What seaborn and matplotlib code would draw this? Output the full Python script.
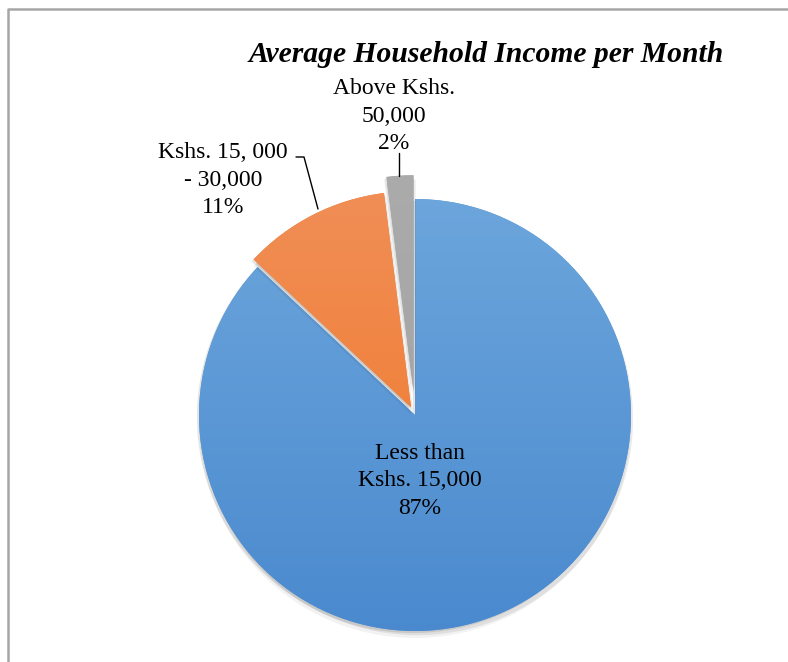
import numpy as np
import matplotlib
matplotlib.use("Agg")
import matplotlib.pyplot as plt
import seaborn as sns
from matplotlib import patheffects as pe
from matplotlib.colors import LinearSegmentedColormap
from matplotlib.lines import Line2D

# ---- data ----
categories = ["Less than\nKshs. 15,000", "Kshs. 15, 000\n- 30,000", "Above Kshs.\n50,000"]
shares = [87, 11, 2]
title = "Average Household Income per Month"

sns.set_theme(style="white")
plt.rcParams['font.family'] = ['Liberation Serif', 'DejaVu Serif']
plt.rcParams['text.color'] = 'black'

W, H = 788, 662
fig = plt.figure(figsize=(W / 100, H / 100), dpi=100)
ax = fig.add_axes([0, 0, 1, 1])

cx, cy, r = 415, H - 415, 216
explode_frac = [0.0, 0.04, 0.11]
base_cols = ["#5B9BD5", "#ED7D31", "#A5A5A5"]
grad_cols = [("#6FA8DD", "#4787CD"), ("#F1905A", "#EF7420"), ("#ABABAB", "#A0A0A0")]

wedges, _ = ax.pie(shares, center=(cx, cy), radius=r, startangle=90,
                   counterclock=False, colors=base_cols,
                   explode=[f * r for f in explode_frac], frame=True,
                   wedgeprops=dict(linewidth=0))

for i, w in enumerate(wedges):
    w.set_zorder(1 + i)
    w.set_path_effects([
        pe.SimplePatchShadow(offset=(0, -5), shadow_rgbFace="#000000", alpha=0.05),
        pe.SimplePatchShadow(offset=(1.5, -3), shadow_rgbFace="#000000", alpha=0.08),
        pe.SimplePatchShadow(offset=(-1.5, -1.5), shadow_rgbFace="#000000", alpha=0.10),
        pe.Normal()])
    cmap = LinearSegmentedColormap.from_list("g%d" % i, list(grad_cols[i]))
    img = np.linspace(0, 1, 256).reshape(-1, 1)
    im = ax.imshow(img, cmap=cmap, extent=[cx - r - 40, cx + r + 40, cy - r - 40, cy + r + 40],
                   origin="upper", aspect="auto", zorder=1.5 + i, interpolation="bilinear")
    im.set_clip_path(w)

ax.set_xlim(0, W)
ax.set_ylim(0, H)
ax.set_aspect("equal")
ax.axis("off")

fs = 17
ls = 1.4
lab = [c + "\n%d%%" % s for c, s in zip(categories, shares)]
ax.text(420, H - 481, lab[0], ha="center", va="center", fontsize=fs, linespacing=ls, zorder=10)
ax.text(223, H - 180, lab[1], ha="center", va="center", fontsize=fs, linespacing=ls, zorder=10)
ax.text(394, H - 116, lab[2], ha="center", va="center", fontsize=fs, linespacing=ls, zorder=10)

# leader lines
ax.add_line(Line2D([296, 304, 318], [H - 157, H - 157, H - 209], color="black", lw=1, zorder=10))
ax.add_line(Line2D([399, 399], [H - 153, H - 176], color="black", lw=1, zorder=10))

ax.text(486.5, H - 54, title, ha="center", va="center", fontsize=21.3,
        fontweight="bold", fontstyle="italic", zorder=10)

# chart frame (left and top edges)
fig.add_artist(Line2D([8 / W, 8 / W, 1], [0, 1 - 9 / H, 1 - 9 / H],
                      transform=fig.transFigure, color="#A6A6A6", lw=1.8))

fig.savefig("out.png", dpi=100)
